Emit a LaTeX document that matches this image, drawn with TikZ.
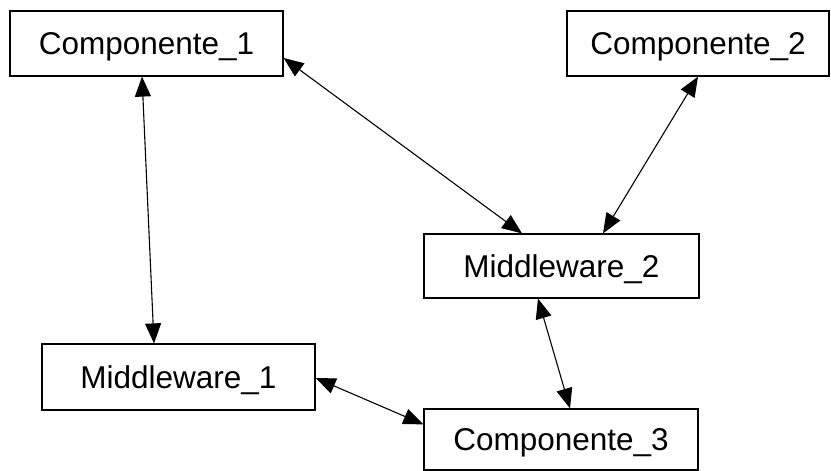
\documentclass[tikz,border=0pt]{standalone}
\usepackage{fontspec}
\setmainfont{Liberation Sans}
\usetikzlibrary{arrows.meta}
\begin{document}
\begin{tikzpicture}[x=1pt,y=-1pt,
  box/.style={draw=black, line width=1.2pt, fill=white, inner sep=0pt,
              text depth=0pt, font=\fontsize{31.5}{36}\selectfont},
  link/.style={line width=1.1pt, {Triangle[length=20pt,width=16pt]}-{Triangle[length=20pt,width=16pt]}}]
  \useasboundingbox (0,0) rectangle (831,471);

  % components and middleware boxes
  \node[box, minimum width=273pt, minimum height=65pt] (c1) at (146.5,43.5) {Componente\_1};
  \node[box, minimum width=262pt, minimum height=65pt] (c2) at (698,43.5) {Componente\_2};
  \node[box, minimum width=275pt, minimum height=64pt] (m2) at (561.5,266) {Middleware\_2};
  \node[box, minimum width=273pt, minimum height=66pt] (m1) at (178.5,377) {Middleware\_1};
  \node[box, minimum width=274pt, minimum height=61pt] (c3) at (561,439.5) {Componente\_3};

  % bidirectional links
  \draw[link] ([xshift=-4.5pt]c1.south) -- ([xshift=-24.5pt]m1.north);
  \draw[link] ([yshift=-14.5pt]c1.east) -- ([xshift=-39.5pt]m2.north);
  \draw[link] (c2.south) -- ([xshift=41.5pt]m2.north);
  \draw[link] ([xshift=-23.5pt]m2.south) -- ([xshift=9pt]c3.north);
  \draw[link] ([yshift=-1pt]m1.east) -- ([yshift=-16pt]c3.north west);
\end{tikzpicture}
\end{document}
